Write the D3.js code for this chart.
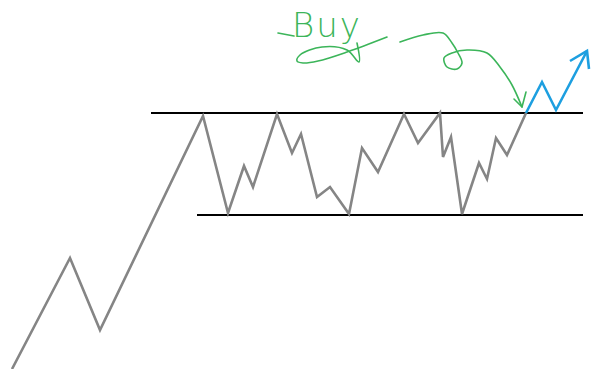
<!DOCTYPE html>
<html>
<head>
    <title>Breakout Buy</title>
    <script src="https://d3js.org/d3.v7.min.js"></script>
    <style>
        body { margin: 0; background: #fff; }
        .price { fill: none; stroke: #858585; stroke-width: 2.6; stroke-linejoin: miter; }
        .level { stroke: #000; stroke-width: 2; }
        .breakout { fill: none; stroke: #1d9fe0; stroke-width: 2.6; }
        .note { fill: none; stroke: #3cb55a; stroke-width: 1.6; stroke-linecap: round; stroke-linejoin: round; }
        .buy-label { fill: #3cb55a; font-family: "DejaVu Sans", sans-serif; font-weight: 200; font-size: 34px; }
    </style>
</head>
<body>
    <div id="chart"></div>
    <script>
        // price path (time, price) - price measured up from the bottom of the picture
        const priceTime = [12, 70, 100, 203, 228, 244, 253, 277, 292, 301, 317, 330, 349, 362, 378, 404, 418, 440, 443, 451, 462, 479, 487, 496, 507, 526];
        const priceValue = [0, 111, 39, 253, 156, 203, 182, 255, 216, 235, 172, 182, 155, 221, 197, 255, 226, 256, 212, 232, 155, 206, 190, 231, 214, 256];

        // projected move after the breakout
        const breakoutTime = [526, 542, 556, 587];
        const breakoutValue = [256, 287, 259, 318];
        const breakoutHeadTime = [570, 587, 589];
        const breakoutHeadValue = [308, 318, 300];

        // resistance / support levels
        const levelNames = ["resistance", "support"];
        const levelValue = [256, 154];
        const levelStart = [151, 197];
        const levelEnd = [583, 583];

        // hand drawn "Buy" note and arrow
        const buyLabel = "Buy";
        const buyAt = [292, 332];
        const buyDashTime = [278, 294];
        const buyDashValue = [336, 333];
        const swooshTime = [357, 359, 347, 322, 300, 297, 303, 318, 347, 387];
        const swooshValue = [326, 307, 319, 322, 314, 308, 306, 308, 317, 332];
        const arrowTime = [400, 423, 443, 452, 458, 462, 457, 447, 444, 452, 467, 487, 500, 512, 522];
        const arrowValue = [327, 334, 336, 326, 316, 306, 300, 302, 311, 316, 319, 316, 302, 284, 262];
        const arrowHeadTime = [514, 522, 526];
        const arrowHeadValue = [270, 262, 277];

        const width = 600, height = 369;

        const x = d3.scaleLinear().domain([0, 600]).range([0, width]);
        const y = d3.scaleLinear().domain([0, 369]).range([height, 0]);

        const svg = d3.select("#chart").append("svg")
            .attr("width", width)
            .attr("height", height);

        const zip = (ts, vs) => ts.map((t, i) => ({ t: t, v: vs[i] }));
        const line = d3.line().x(d => x(d.t)).y(d => y(d.v));
        const smooth = d3.line().x(d => x(d.t)).y(d => y(d.v)).curve(d3.curveCatmullRom.alpha(0.5));

        // levels
        svg.selectAll(".level")
            .data(levelNames)
            .enter().append("line")
            .attr("class", "level")
            .attr("x1", (d, i) => x(levelStart[i]))
            .attr("x2", (d, i) => x(levelEnd[i]))
            .attr("y1", (d, i) => y(levelValue[i]))
            .attr("y2", (d, i) => y(levelValue[i]));

        // price
        svg.append("path")
            .attr("class", "price")
            .attr("d", line(zip(priceTime, priceValue)));

        // breakout
        svg.append("path")
            .attr("class", "breakout")
            .attr("d", line(zip(breakoutTime, breakoutValue)));
        svg.append("path")
            .attr("class", "breakout")
            .attr("d", line(zip(breakoutHeadTime, breakoutHeadValue)));

        // note
        svg.append("text")
            .attr("class", "buy-label")
            .attr("x", x(buyAt[0]))
            .attr("y", y(buyAt[1]))
            .attr("letter-spacing", 2)
            .text(buyLabel);

        svg.append("path")
            .attr("class", "note")
            .attr("d", line(zip(buyDashTime, buyDashValue)));
        svg.append("path")
            .attr("class", "note")
            .attr("d", smooth(zip(swooshTime, swooshValue)));
        svg.append("path")
            .attr("class", "note")
            .attr("d", smooth(zip(arrowTime, arrowValue)));
        svg.append("path")
            .attr("class", "note")
            .attr("d", line(zip(arrowHeadTime, arrowHeadValue)));
    </script>
</body>
</html>
